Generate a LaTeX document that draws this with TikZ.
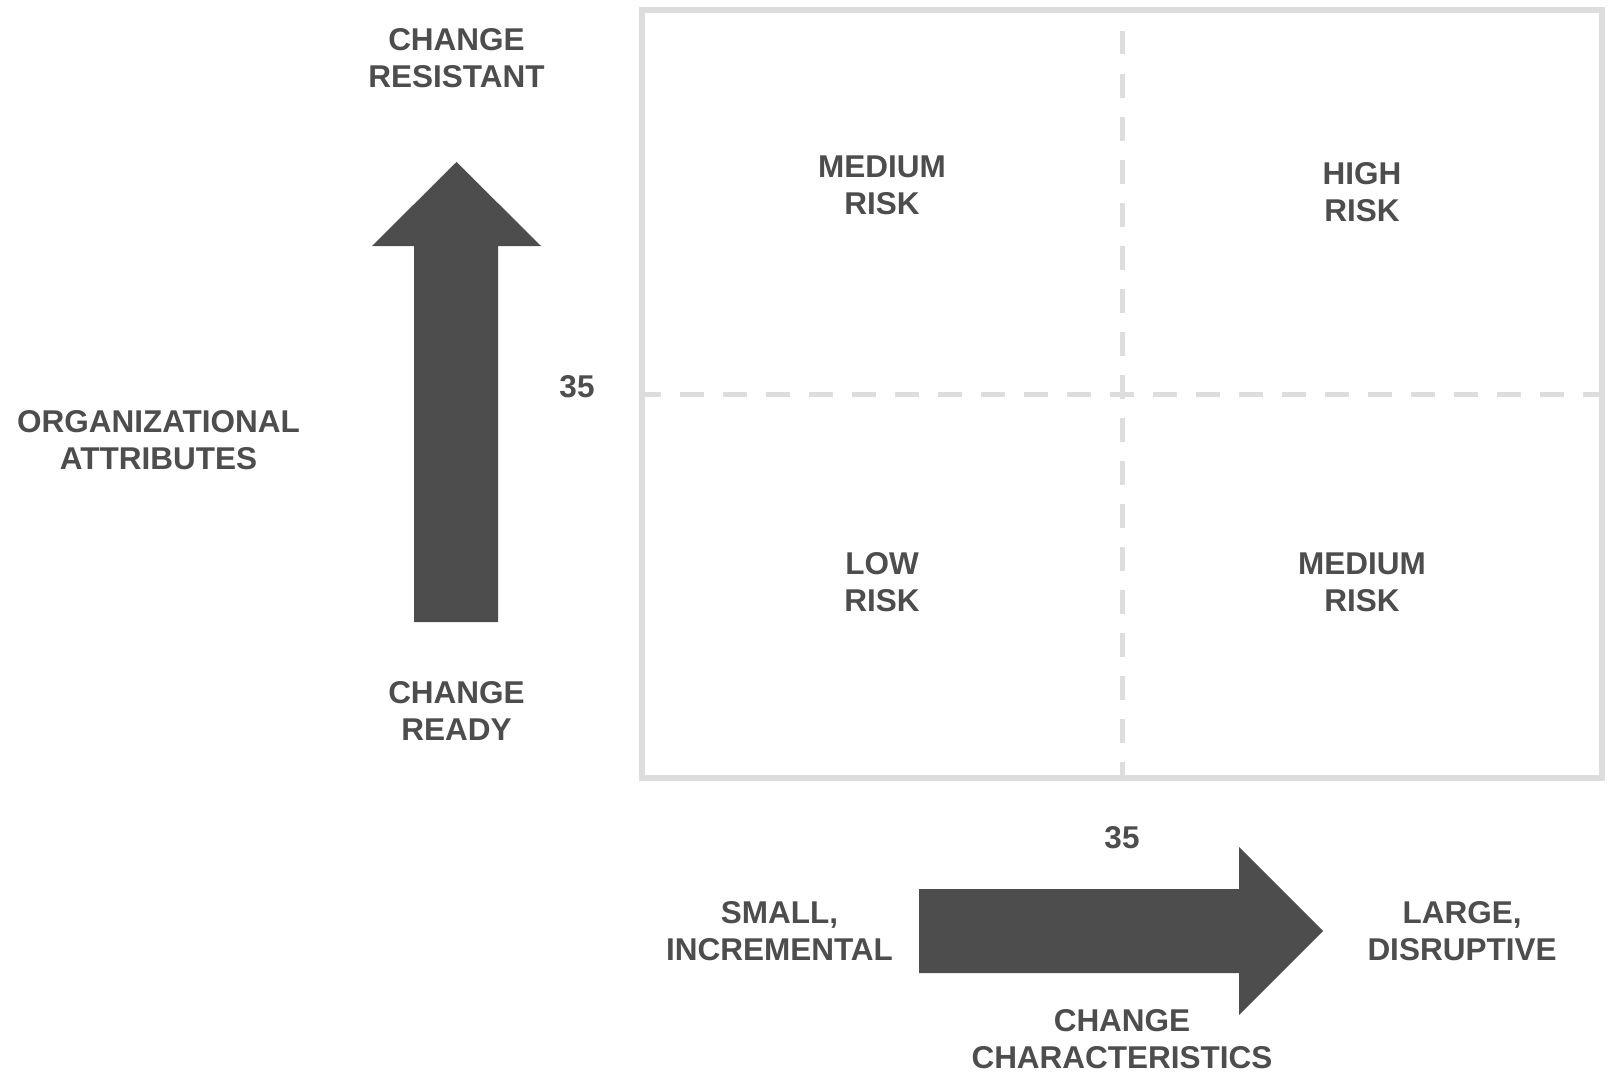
\documentclass[tikz,border=0pt]{standalone}
\usepackage{fontspec}
\setmainfont{Liberation Sans}
\definecolor{txt}{HTML}{4D4D4D}
\definecolor{frm}{HTML}{DDDDDD}
\begin{document}
\begin{tikzpicture}[x=1pt,y=-1pt,
  lbl/.style={font=\fontsize{31.5}{37}\selectfont\bfseries, text=txt, align=center, inner sep=0pt},
  frame/.style={draw=frm, line width=5.5pt},
  vgrid/.style={draw=frm, line width=5pt, dash pattern=on 23.5pt off 19.5pt},
  hgrid/.style={draw=frm, line width=5pt, dash pattern=on 24pt off 19pt, dash phase=5pt},
  bigarrow/.style={fill=txt, draw=none}]
\useasboundingbox (0,0) rectangle (1613,1081);
\fill[white] (0,0) rectangle (1613,1081);
% frame
\draw[frame] (642,10) rectangle (1602,778);
% dashed dividers
\draw[vgrid] (1122,31) -- (1122,778);
\draw[hgrid] (642,394) -- (1602,394);
% vertical arrow
\fill[bigarrow] (414,622) -- (414,246) -- (372,246) -- (456.5,162) -- (541,246) -- (498,246) -- (498,622) -- cycle;
% horizontal arrow
\fill[bigarrow] (919,889) -- (1239,889) -- (1239,847) -- (1323,931) -- (1239,1015) -- (1239,973) -- (919,973) -- cycle;
% labels
\node[lbl] (resist) at (456.5,58.5) {CHANGE\\RESISTANT};
\node[lbl] (ready) at (456.5,710.5) {CHANGE\\READY};
\node[lbl] (org) at (158.5,440) {ORGANIZATIONAL\\ATTRIBUTES};
\node[lbl] (ya) at (577,386.5) {35};
\node[lbl] (q1) at (882,185.5) {MEDIUM\\RISK};
\node[lbl] (q2) at (1362,192.5) {HIGH\\RISK};
\node[lbl] (q3) at (882,582.5) {LOW\\RISK};
\node[lbl] (q4) at (1362,582.5) {MEDIUM\\RISK};
\node[lbl] (xa) at (1122,838) {35};
\node[lbl] (small) at (779.5,931.5) {SMALL,\\INCREMENTAL};
\node[lbl] (large) at (1462,931.5) {LARGE,\\DISRUPTIVE};
\node[lbl] (chars) at (1122,1039) {CHANGE\\CHARACTERISTICS};
\end{tikzpicture}
\end{document}
